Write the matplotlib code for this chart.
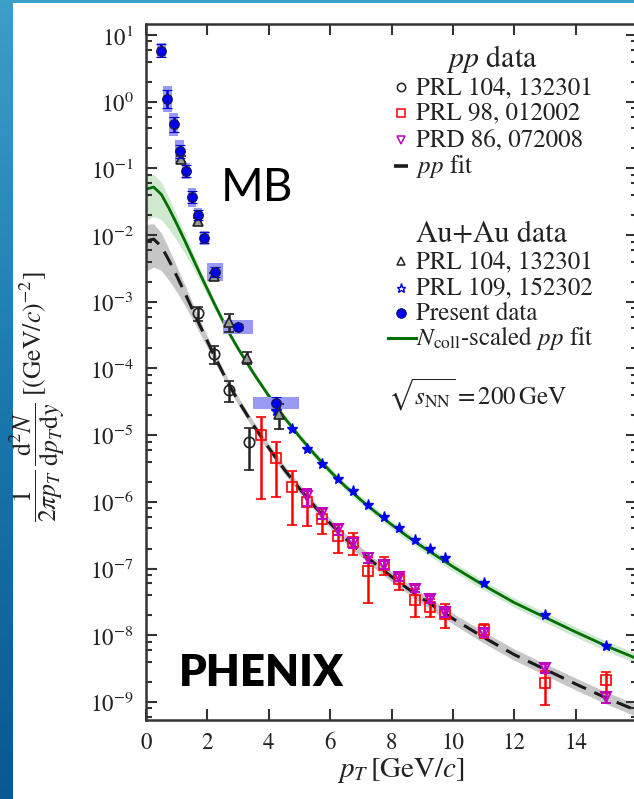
import numpy as np
import matplotlib
matplotlib.use("Agg")
import matplotlib.pyplot as plt
from matplotlib.lines import Line2D
from matplotlib.patches import Rectangle
from matplotlib.colors import LinearSegmentedColormap
from matplotlib.ticker import LogLocator, NullLocator, FixedLocator

plt.rcParams['mathtext.fontset'] = 'stix'
plt.rcParams['font.family'] = ['STIXGeneral', 'DejaVu Serif']

# ---- fit curves (log10 of the yield) ----
fit_pt = [0, 0.25, 0.5, 0.75, 1.0, 1.25, 1.5, 1.75, 2.0, 2.25, 2.5, 2.75, 3.0,
          3.5, 4.0, 4.5, 5.0, 5.5, 6.0, 6.5, 7.0, 7.5, 8.0, 8.5, 9.0, 9.5,
          10, 11, 12, 13, 14, 15, 16]
pp_fit_log = [-2.09, -2.06, -2.17, -2.38, -2.61, -2.85, -3.10, -3.35, -3.59,
              -3.83, -4.06, -4.28, -4.48, -4.85, -5.19, -5.51, -5.80, -6.07,
              -6.32, -6.55, -6.75, -6.94, -7.12, -7.29, -7.45, -7.60, -7.75,
              -8.03, -8.29, -8.51, -8.73, -8.94, -9.13]
ncoll_fit_log = [-1.31, -1.28, -1.39, -1.60, -1.83, -2.07, -2.32, -2.57, -2.81,
                 -3.05, -3.28, -3.50, -3.70, -4.07, -4.41, -4.73, -5.02, -5.29,
                 -5.54, -5.77, -5.97, -6.16, -6.34, -6.51, -6.67, -6.82, -6.97,
                 -7.25, -7.51, -7.73, -7.95, -8.16, -8.35]
# band edges in decades above / below the fit
pp_band_up = [0.25, 0.23, 0.20, 0.17, 0.14, 0.12, 0.10, 0.08, 0.07, 0.065, 0.06,
              0.06, 0.06, 0.06, 0.06, 0.065, 0.065, 0.065, 0.07, 0.07, 0.07, 0.075,
              0.075, 0.075, 0.08, 0.08, 0.08, 0.085, 0.085, 0.085, 0.09, 0.09, 0.09]
pp_band_dn = [0.45, 0.42, 0.36, 0.30, 0.24, 0.19, 0.15, 0.12, 0.10, 0.08, 0.07,
              0.065, 0.06, 0.06, 0.06, 0.065, 0.065, 0.065, 0.07, 0.07, 0.07, 0.075,
              0.075, 0.075, 0.08, 0.08, 0.08, 0.085, 0.085, 0.085, 0.09, 0.09, 0.09]
ncoll_band_up = [0.20, 0.19, 0.18, 0.16, 0.13, 0.11, 0.09, 0.07, 0.06, 0.05, 0.05,
                 0.045, 0.045, 0.045, 0.045, 0.05, 0.05, 0.05, 0.055, 0.055, 0.06,
                 0.06, 0.06, 0.065, 0.065, 0.065, 0.07, 0.07, 0.07, 0.075, 0.075,
                 0.075, 0.075]
ncoll_band_dn = [0.47, 0.44, 0.38, 0.31, 0.25, 0.19, 0.14, 0.11, 0.09, 0.07, 0.06,
                 0.05, 0.045, 0.045, 0.045, 0.05, 0.05, 0.05, 0.055, 0.055, 0.06,
                 0.06, 0.06, 0.065, 0.065, 0.065, 0.07, 0.07, 0.07, 0.075, 0.075,
                 0.075, 0.075]

# ---- Au+Au: present data ----
present_pt = [0.5, 0.7, 0.9, 1.1, 1.3, 1.5, 1.7, 1.9, 2.25, 3.0, 4.25]
present_y = [5.8, 1.1, 0.46, 0.18, 0.091, 0.037, 0.020, 0.0091, 0.0028, 4.2e-4, 3.0e-5]
present_stat_dex = [0.10, 0.13, 0.11, 0.10, 0.09, 0.09, 0.08, 0.08, 0.07, 0.04, 0.10]
present_sys_dex = [0.11, 0.20, 0.17, 0.17, 0.12, 0.14, 0.10, 0.10, 0.13, 0.10, 0.09]
present_box_w = [0.28, 0.28, 0.28, 0.28, 0.28, 0.28, 0.28, 0.28, 0.5, 1.0, 1.5]

# ---- Au+Au: PRL 104, 132301 ----
auau104_pt = [1.15, 1.7, 2.2, 2.7, 3.3, 4.35]
auau104_y = [0.138, 0.016, 0.0024, 5.0e-4, 1.45e-4, 2.1e-5]
auau104_err = [0.015, 0.002, 3e-4, 1.5e-4, 3e-5, 8.5e-6]

# ---- Au+Au: PRL 109, 152302 ----
auau109_pt = [4.25, 4.75, 5.25, 5.75, 6.25, 6.75, 7.25, 7.75, 8.25, 8.75, 9.25,
              9.75, 11.0, 13.0, 15.0]
auau109_y = [2.3e-5, 1.23e-5, 6.3e-6, 3.7e-6, 2.24e-6, 1.45e-6, 9.1e-7, 6.0e-7,
             4.0e-7, 2.73e-7, 2.0e-7, 1.42e-7, 6.0e-8, 2.0e-8, 6.9e-9]

# ---- p+p: PRL 104, 132301 ----
pp104_pt = [1.7, 2.2, 2.7, 3.35]
pp104_y = [6.8e-4, 1.66e-4, 4.8e-5, 7.9e-6]
pp104_err = [1.7e-4, 5e-5, 1.7e-5, 4.9e-6]

# ---- p+p: PRL 98, 012002 ----
pp98_pt = [3.75, 4.25, 4.75, 5.25, 5.75, 6.25, 6.75, 7.25, 7.75, 8.25, 8.75,
           9.25, 9.75, 11.0, 13.0, 15.0]
pp98_y = [1.0e-5, 4.5e-6, 1.7e-6, 1.0e-6, 5.5e-7, 3.1e-7, 2.5e-7, 9.1e-8, 1.15e-7,
          6.9e-8, 3.4e-8, 2.7e-8, 2.1e-8, 1.2e-8, 1.9e-9, 2.1e-9]
pp98_err = [8.9e-6, 3.3e-6, 1.25e-6, 5.6e-7, 2.2e-7, 1.4e-7, 9e-8, 6e-8, 3.6e-8,
            2.1e-8, 1.5e-8, 8.5e-9, 8e-9, 3e-9, 1.0e-9, 7.2e-10]

# ---- p+p: PRD 86, 072008 ----
pp86_pt = [5.25, 5.75, 6.25, 6.75, 7.25, 7.75, 8.25, 8.75, 9.25, 9.75, 11.0, 13.0, 15.0]
pp86_y = [1.23e-6, 6.8e-7, 3.9e-7, 2.45e-7, 1.45e-7, 1.15e-7, 7.4e-8, 5.0e-8,
          3.5e-8, 2.2e-8, 1.1e-8, 3.2e-9, 1.17e-9]
pp86_err = [3.5e-7, 1.2e-7, 7e-8, 4e-8, 2.5e-8, 1.5e-8, 9e-9, 6e-9, 4e-9, 3e-9,
            1.5e-9, 5e-10, 2.2e-10]

W, H = 634, 799


def at(px, py):
    return px / W, 1 - py / H


fig = plt.figure(figsize=(W / 100, H / 100), dpi=100)

# blue slide border
edge = fig.add_axes([0, 0, 13 / W, 1])
edge.imshow(np.linspace(0, 1, 256).reshape(-1, 1), aspect='auto',
            cmap=LinearSegmentedColormap.from_list('edge', ['#3c9fc7', '#1a78ad', '#0a5890']))
edge.axis('off')
fig.add_artist(Rectangle((0, 1 - 3 / H), 1, 3 / H, transform=fig.transFigure,
                         color='#3c9fc7', lw=0))

ax = fig.add_axes([146 / W, 79 / H, 491 / W, 696 / H])
ax.set_yscale('log')
ax.set_xlim(0, 16)
ax.set_ylim(10 ** -9.27, 10 ** 1.165)

pt = np.array(fit_pt)
pp_log = np.array(pp_fit_log)
nc_log = np.array(ncoll_fit_log)
ax.fill_between(pt, 10 ** (pp_log - np.array(pp_band_dn)), 10 ** (pp_log + np.array(pp_band_up)),
                color='#c6c6c6', lw=0, zorder=1)
ax.fill_between(pt, 10 ** (nc_log - np.array(ncoll_band_dn)), 10 ** (nc_log + np.array(ncoll_band_up)),
                color='#cfe8cf', lw=0, zorder=1)
ax.plot(pt, 10 ** pp_log, color='#1a1a1a', lw=2.2, dashes=(5, 3), zorder=2)
ax.plot(pt, 10 ** nc_log, color='#007000', lw=2.0, zorder=2)

eb = dict(linestyle='none', capsize=3.5, elinewidth=1.8, capthick=1.8)
ax.errorbar(pp98_pt, pp98_y, yerr=pp98_err, marker='s', ms=7, mfc='none', mec='red',
            mew=1.2, color='red', zorder=3, **eb)
ax.errorbar(pp86_pt, pp86_y, yerr=pp86_err, marker='v', ms=7.5, mfc='none', mec='#c000c0',
            mew=1.4, color='#c000c0', zorder=4, **eb)
ax.errorbar(pp104_pt, pp104_y, yerr=pp104_err, marker='o', ms=7.5, mfc='none', mec='#222222',
            mew=1.2, color='#222222', zorder=4, **eb)

# systematic boxes of the present data
py = np.array(present_y)
sys = np.array(present_sys_dex)
ax.bar(present_pt, py * 10 ** sys - py * 10 ** -sys, bottom=py * 10 ** -sys,
       width=present_box_w, color='#9a9af5', lw=0, zorder=3)

ax.errorbar(auau104_pt, auau104_y, yerr=auau104_err, marker='^', ms=7, mfc='#9a9a9a',
            mec='#222222', mew=1.2, color='#222222', zorder=5, **eb)
ax.plot(auau109_pt, auau109_y, linestyle='none', marker='*', ms=8, color='#0000ee',
        mec='#0000ee', zorder=5)
stat = np.array(present_stat_dex)
ax.errorbar(present_pt, present_y, yerr=[py - py * 10 ** -stat, py * 10 ** stat - py],
            marker='o', ms=7, mfc='#0000ee', mec='#1a1a3a', mew=0.8, color='#0000dd',
            zorder=6, **eb)

# axes cosmetics
for s in ax.spines.values():
    s.set_linewidth(1.8)
    s.set_color('#333333')
ax.xaxis.set_major_locator(FixedLocator([0, 2, 4, 6, 8, 10, 12, 14]))
ax.xaxis.set_minor_locator(NullLocator())
ax.yaxis.set_major_locator(LogLocator(base=10, numticks=30))
ax.yaxis.set_minor_locator(LogLocator(base=10, subs=[2, 4, 6, 8], numticks=30))
ax.tick_params(which='both', direction='in', top=True, right=True, color='#333333',
               width=1.5, labelsize=16.5, labelcolor='#222222')
ax.tick_params(which='major', length=8, pad=9)
ax.tick_params(which='minor', length=4.5)

ax.set_xlabel(r'$p_T\,[\mathrm{GeV}/c]$', fontsize=21, color='#222222')
ax.xaxis.set_label_coords(0.52, -0.052)
ax.set_ylabel(r'$\dfrac{1}{2\pi p_T}\,\dfrac{\mathrm{d}^2N}{\mathrm{d}p_T\mathrm{d}y}\;[(\mathrm{GeV}/c)^{-2}]$',
              fontsize=18.5, color='#222222')
ax.yaxis.set_label_coords(-0.16, 0.465)

# labels on the plot
fig.text(*at(221, 201), 'MB', fontsize=33, family='Lato', weight='normal', color='#000000')
fig.text(*at(179, 686), 'PHENIX', fontsize=31.5, family='Lato', weight='heavy', color='#000000')

# legends
tc = '#222222'
fig.text(*at(492, 67), r'$pp$ data', fontsize=21.5, ha='center', color=tc)
fig.text(*at(492, 242), 'Au+Au data', fontsize=21.5, ha='center', color=tc)
rows = [
    (94, 'PRL 104, 132301', dict(marker='o', ms=6, mfc='none', mec='#222222', mew=1.1)),
    (120, 'PRL 98, 012002', dict(marker='s', ms=6, mfc='none', mec='red', mew=1.1)),
    (146.5, 'PRD 86, 072008', dict(marker='v', ms=6, mfc='none', mec='#c000c0', mew=1.1)),
    (172.5, r'$pp$ fit', dict(marker='_', ms=10, mec='#1a1a1a', mew=2.6)),
    (268, 'PRL 104, 132301', dict(marker='^', ms=5.5, mfc='none', mec='#222222', mew=1.1)),
    (295, 'PRL 109, 152302', dict(marker='*', ms=6.5, mfc='none', mec='#0000ee', mew=1.0)),
    (320, 'Present data', dict(marker='o', ms=7, mfc='#0000ee', mec='#1a1a3a', mew=0.6)),
]
for base, label, style in rows:
    fig.text(*at(416, base), label, fontsize=18, color=tc)
    mx, my = at(401, base - 7)
    fig.add_artist(Line2D([mx], [my], transform=fig.transFigure, linestyle='none', **style))
x0, y0 = at(388, 338)
x1, _ = at(416, 338)
fig.add_artist(Line2D([x0, x1], [y0, y0], transform=fig.transFigure, color='#007000', lw=2.2))
fig.text(*at(416, 345), r'$N_{\mathrm{coll}}$-scaled $pp$ fit', fontsize=18, color=tc)
fig.text(*at(388, 405), r'$\sqrt{s_{\mathrm{NN}}}=200\,\mathrm{GeV}$', fontsize=18, color=tc)

fig.savefig('out.png', dpi=100)
